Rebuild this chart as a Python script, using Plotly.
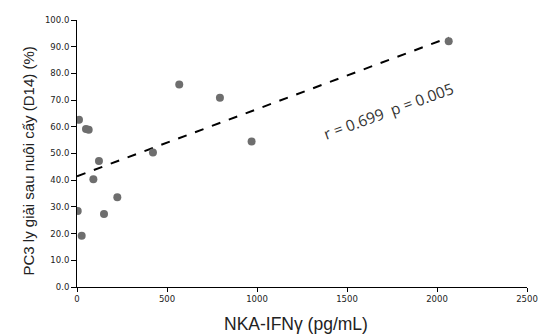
import numpy as np
import plotly.graph_objects as go

nka_ifng = [11, 50, 65, 122, 91, 422, 970, 224, 4, 150, 26, 568, 794, 2065]
pc3_lysis = [62.6, 59.2, 58.9, 47.2, 40.4, 50.4, 54.5, 33.6, 28.5, 27.3, 19.2, 75.8, 70.9, 92.0]

x_ticks = [0, 500, 1000, 1500, 2000, 2500]
y_ticks = [0, 10, 20, 30, 40, 50, 60, 70, 80, 90, 100]

slope, intercept = np.polyfit(nka_ifng, pc3_lysis, 1)
trend_x = [0, max(nka_ifng)]
trend_y = [intercept + slope * v for v in trend_x]

fig = go.Figure()
fig.add_trace(go.Scatter(x=trend_x, y=trend_y, mode="lines",
                         line=dict(color="black", width=2, dash="dash"),
                         hoverinfo="skip", showlegend=False))
fig.add_trace(go.Scatter(x=nka_ifng, y=pc3_lysis, mode="markers",
                         marker=dict(color="#6e6e6e", size=8),
                         showlegend=False))

fig.add_annotation(x=1728, y=66, xref="x", yref="y", text="r = 0.699  p = 0.005",
                   showarrow=False, textangle=-20,
                   font=dict(family="Open Sans", size=15.5, color="#333333"))

# axis titles
fig.add_annotation(x=-0.131, y=0.472, xref="paper", yref="paper",
                   text="PC3 ly giải sau nuôi cấy (D14) (%)", showarrow=False, textangle=-90,
                   font=dict(family="Liberation Sans Narrow, Liberation Sans", size=15, color="#222222"))
fig.add_annotation(x=0.487, y=-0.182, xref="paper", yref="paper", yanchor="bottom",
                   text="NKA-IFNγ (pg/mL)", showarrow=False,
                   font=dict(family="Liberation Sans", size=17.5, color="#222222"))

tick_font = dict(family="DejaVu Sans", size=8.5, color="#222222")
fig.update_layout(
    width=539, height=336,
    margin=dict(l=77, r=12, t=20, b=49),
    plot_bgcolor="white", paper_bgcolor="white",
    xaxis=dict(range=[0, 2500], tickvals=x_ticks, ticktext=[str(t) for t in x_ticks],
               automargin=False,
               showgrid=False, zeroline=False, showline=True, linecolor="black", linewidth=1,
               ticks="outside", ticklen=4, tickcolor="black", tickfont=tick_font),
    yaxis=dict(range=[0, 100], tickvals=y_ticks, ticktext=[f"{t:.1f}" for t in y_ticks],
               automargin=False,
               showgrid=False, zeroline=False, showline=True, linecolor="black", linewidth=1,
               ticks="outside", ticklen=5, tickcolor="black", tickfont=tick_font),
)

fig.write_html("out.html", config={"displayModeBar": False},
               post_script="document.body.style.margin='0';document.body.style.overflow='hidden';")
